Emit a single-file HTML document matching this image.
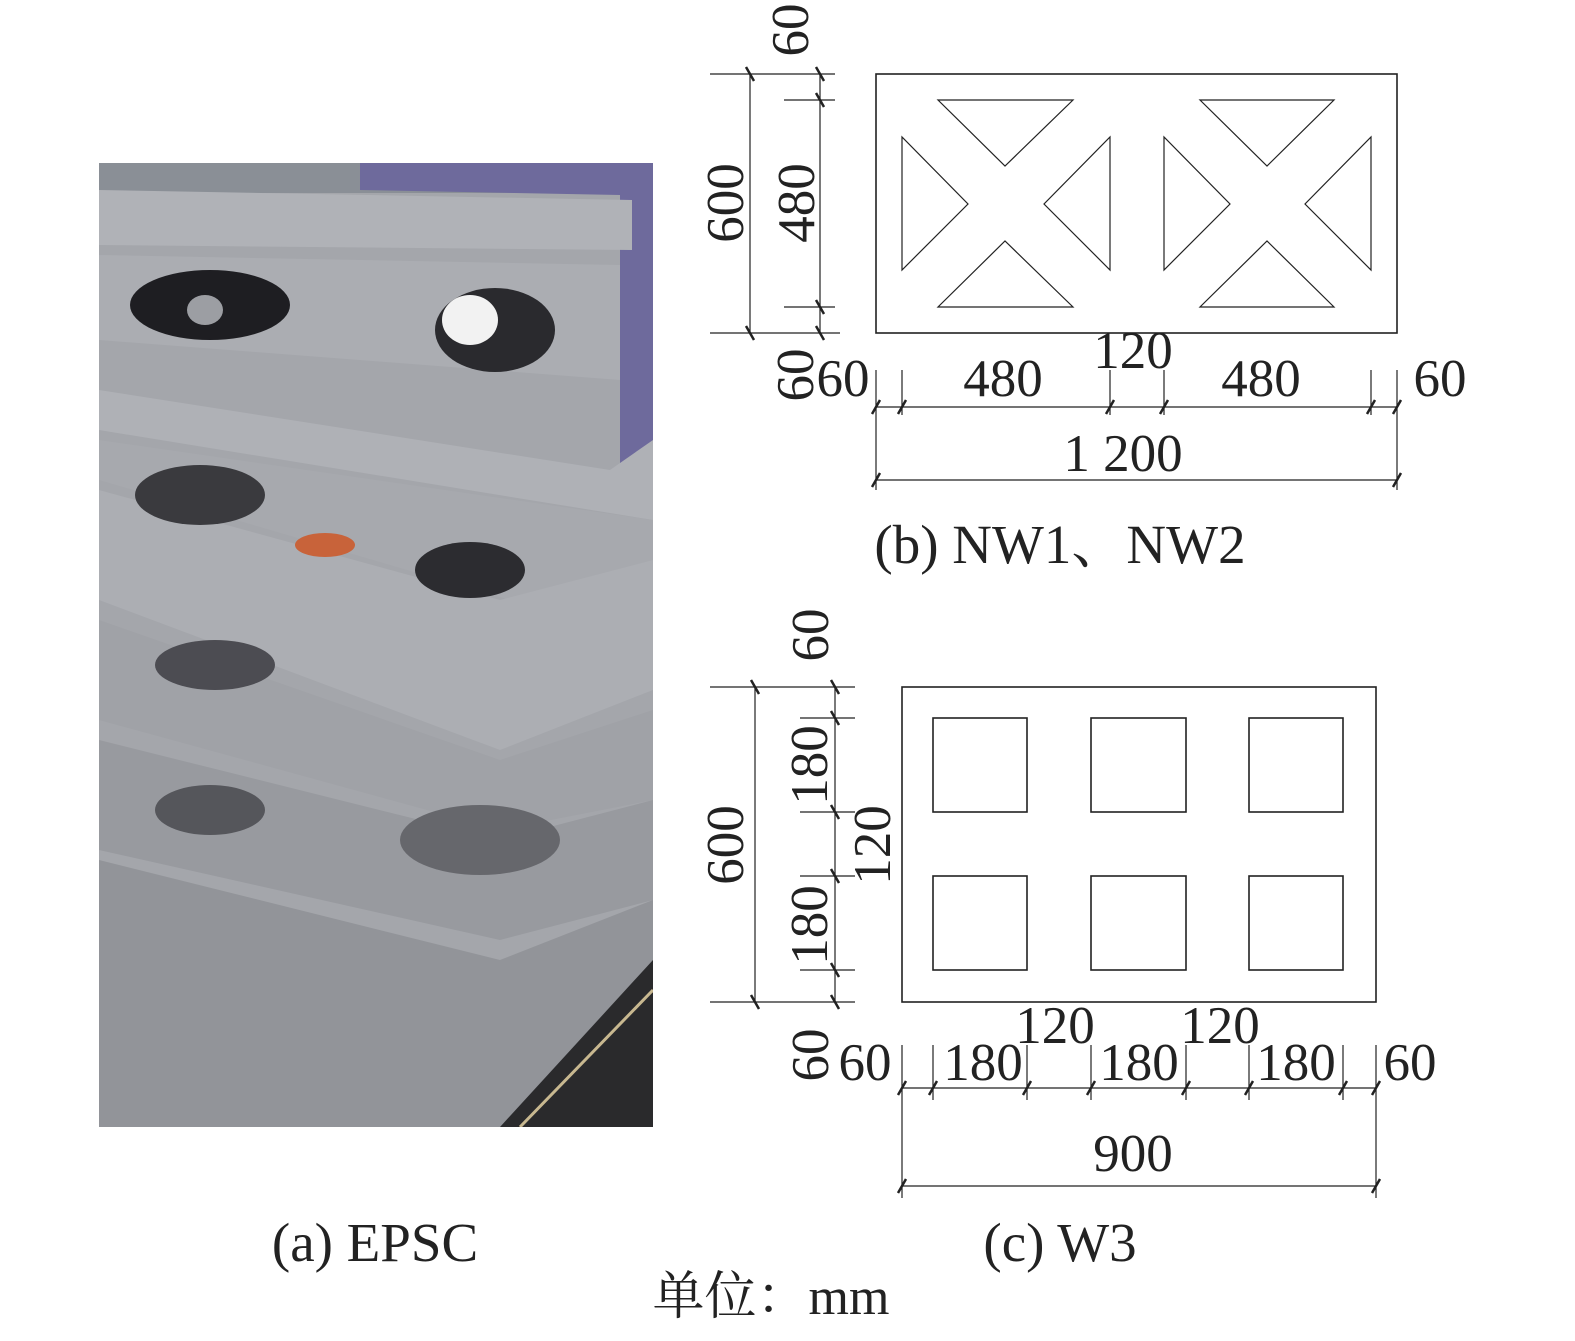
<!DOCTYPE html>
<html><head><meta charset="utf-8"><style>
html,body{margin:0;padding:0;background:#fff}
svg{display:block}
text{font-family:"Liberation Serif","Noto Serif CJK SC",serif;fill:#222}
</style></head><body>
<svg width="1575" height="1341" viewBox="0 0 1575 1341" xmlns="http://www.w3.org/2000/svg">
<defs>
<clipPath id="ph"><rect x="99" y="163" width="554" height="964"/></clipPath>
</defs>
<g clip-path="url(#ph)">
<rect x="99" y="163" width="554" height="964" fill="#a4a6ab"/>
<rect x="99" y="163" width="554" height="30" fill="#8a8f96"/>
<polygon points="360,163 653,163 653,470 620,470 620,195 360,190" fill="#6e6a9c"/>
<polygon points="99,190 632,200 632,250 99,245" fill="#b0b2b7"/>
<polygon points="99,255 620,265 620,380 99,340" fill="#abadb2"/>
<polygon points="99,390 610,470 653,440 653,520 99,430" fill="#afb1b6"/>
<polygon points="99,440 653,520 653,580 510,600 99,480" fill="#a7a9ae"/>
<polygon points="99,490 500,600 653,560 653,690 500,750 99,600" fill="#acaeb3"/>
<polygon points="99,620 500,760 653,710 653,800 500,830 99,720" fill="#a0a2a7"/>
<polygon points="99,740 500,840 653,800 653,900 500,940 99,850" fill="#989a9f"/>
<polygon points="99,860 500,960 653,900 653,1127 99,1127" fill="#929499"/>
<polygon points="500,1127 653,960 653,1127" fill="#2a2a2c"/>
<line x1="520" y1="1127" x2="653" y2="990" stroke="#c8b890" stroke-width="3"/>
<ellipse cx="210" cy="305" rx="80" ry="35" fill="#1e1e22"/>
<ellipse cx="205" cy="310" rx="18" ry="15" fill="#9c9ea3"/>
<ellipse cx="495" cy="330" rx="60" ry="42" fill="#2a2a2e"/>
<ellipse cx="470" cy="320" rx="28" ry="25" fill="#f2f2f2"/>
<ellipse cx="200" cy="495" rx="65" ry="30" fill="#3a3a3e"/>
<ellipse cx="470" cy="570" rx="55" ry="28" fill="#2c2c30"/>
<ellipse cx="325" cy="545" rx="30" ry="12" fill="#c8633a"/>
<ellipse cx="215" cy="665" rx="60" ry="25" fill="#4c4c52"/>
<ellipse cx="210" cy="810" rx="55" ry="25" fill="#55565b"/>
<ellipse cx="480" cy="840" rx="80" ry="35" fill="#66676c"/>
</g>
<g stroke="#222" fill="none" stroke-width="1.6">
<rect x="876" y="74" width="521" height="259"/>
<g stroke-width="1.2">
<polygon points="938,100 1073,100 1005,166"/>
<polygon points="902,137 902,270 968,204"/>
<polygon points="1110,137 1110,270 1044,204"/>
<polygon points="938,307 1073,307 1005,241"/>
<polygon points="1200,100 1334,100 1267,166"/>
<polygon points="1164,137 1164,270 1230,204"/>
<polygon points="1371,137 1371,270 1305,204"/>
<polygon points="1200,307 1334,307 1267,241"/>
</g>
<g stroke-width="1.2">
<line x1="710" y1="74" x2="835" y2="74"/>
<line x1="710" y1="333" x2="840" y2="333"/>
<line x1="784" y1="100" x2="835" y2="100"/>
<line x1="784" y1="307" x2="835" y2="307"/>
<line x1="750" y1="74" x2="750" y2="333"/>
<line x1="820" y1="74" x2="820" y2="333"/>
<line x1="876" y1="370" x2="876" y2="490"/>
<line x1="1397" y1="370" x2="1397" y2="490"/>
<line x1="902" y1="370" x2="902" y2="415"/>
<line x1="1110" y1="370" x2="1110" y2="415"/>
<line x1="1164" y1="370" x2="1164" y2="415"/>
<line x1="1371" y1="370" x2="1371" y2="415"/>
<line x1="876" y1="407" x2="1397" y2="407"/>
<line x1="876" y1="480" x2="1397" y2="480"/>
</g>
<g stroke-width="2.5">
<path d="M746,67 l8,14 M816,67 l8,14 M816,93 l8,14 M816,300 l8,14 M746,326 l8,14 M816,326 l8,14"/>
<path d="M872,414 l8,-14 M898,414 l8,-14 M1106,414 l8,-14 M1160,414 l8,-14 M1367,414 l8,-14 M1393,414 l8,-14 M872,487 l8,-14 M1393,487 l8,-14"/>
</g>
<rect x="902" y="687" width="474" height="315"/>
<rect x="933" y="718" width="94" height="94"/>
<rect x="1091" y="718" width="95" height="94"/>
<rect x="1249" y="718" width="94" height="94"/>
<rect x="933" y="876" width="94" height="94"/>
<rect x="1091" y="876" width="95" height="94"/>
<rect x="1249" y="876" width="94" height="94"/>
<g stroke-width="1.2">
<line x1="710" y1="687" x2="855" y2="687"/>
<line x1="710" y1="1002" x2="855" y2="1002"/>
<line x1="800" y1="718" x2="855" y2="718"/>
<line x1="800" y1="812" x2="855" y2="812"/>
<line x1="800" y1="876" x2="855" y2="876"/>
<line x1="800" y1="970" x2="855" y2="970"/>
<line x1="755" y1="687" x2="755" y2="1002"/>
<line x1="835" y1="687" x2="835" y2="1002"/>
<line x1="902" y1="1045" x2="902" y2="1198"/>
<line x1="1376" y1="1045" x2="1376" y2="1198"/>
<line x1="933" y1="1045" x2="933" y2="1100"/>
<line x1="1027" y1="1045" x2="1027" y2="1100"/>
<line x1="1091" y1="1045" x2="1091" y2="1100"/>
<line x1="1186" y1="1045" x2="1186" y2="1100"/>
<line x1="1249" y1="1045" x2="1249" y2="1100"/>
<line x1="1343" y1="1045" x2="1343" y2="1100"/>
<line x1="902" y1="1088" x2="1376" y2="1088"/>
<line x1="902" y1="1186" x2="1376" y2="1186"/>
</g>
<g stroke-width="2.5">
<path d="M751,680 l8,14 M831,680 l8,14 M831,711 l8,14 M831,805 l8,14 M831,869 l8,14 M831,963 l8,14 M751,995 l8,14 M831,995 l8,14"/>
<path d="M898,1095 l8,-14 M929,1095 l8,-14 M1023,1095 l8,-14 M1087,1095 l8,-14 M1182,1095 l8,-14 M1245,1095 l8,-14 M1339,1095 l8,-14 M1372,1095 l8,-14 M898,1193 l8,-14 M1372,1193 l8,-14"/>
</g>
</g>
<g font-size="53" text-anchor="middle">
<text transform="translate(743,203) rotate(-90)">600</text>
<text transform="translate(814,203) rotate(-90)">480</text>
<text transform="translate(808,30) rotate(-90)">60</text>
<text transform="translate(813,375) rotate(-90)">60</text>
<text x="843" y="396">60</text>
<text x="1003" y="396">480</text>
<text x="1133" y="368">120</text>
<text x="1261" y="396">480</text>
<text x="1440" y="396">60</text>
<text x="1123" y="471">1 200</text>
<text transform="translate(743,845) rotate(-90)">600</text>
<text transform="translate(827,765) rotate(-90)">180</text>
<text transform="translate(827,925) rotate(-90)">180</text>
<text transform="translate(890,845) rotate(-90)">120</text>
<text transform="translate(828,635) rotate(-90)">60</text>
<text transform="translate(828,1055) rotate(-90)">60</text>
<text x="865" y="1080">60</text>
<text x="983" y="1080">180</text>
<text x="1055" y="1043">120</text>
<text x="1139" y="1080">180</text>
<text x="1220" y="1043">120</text>
<text x="1296" y="1080">180</text>
<text x="1410" y="1080">60</text>
<text x="1133" y="1171">900</text>
</g>
<g font-size="55" text-anchor="middle">
<text x="1060" y="563">(b) NW1、NW2</text>
<text x="1060" y="1261">(c) W3</text>
<text x="375" y="1261">(a) EPSC</text>
</g>
<text x="771" y="1314" font-size="52" text-anchor="middle">单位：mm</text>
</svg>
</body></html>
